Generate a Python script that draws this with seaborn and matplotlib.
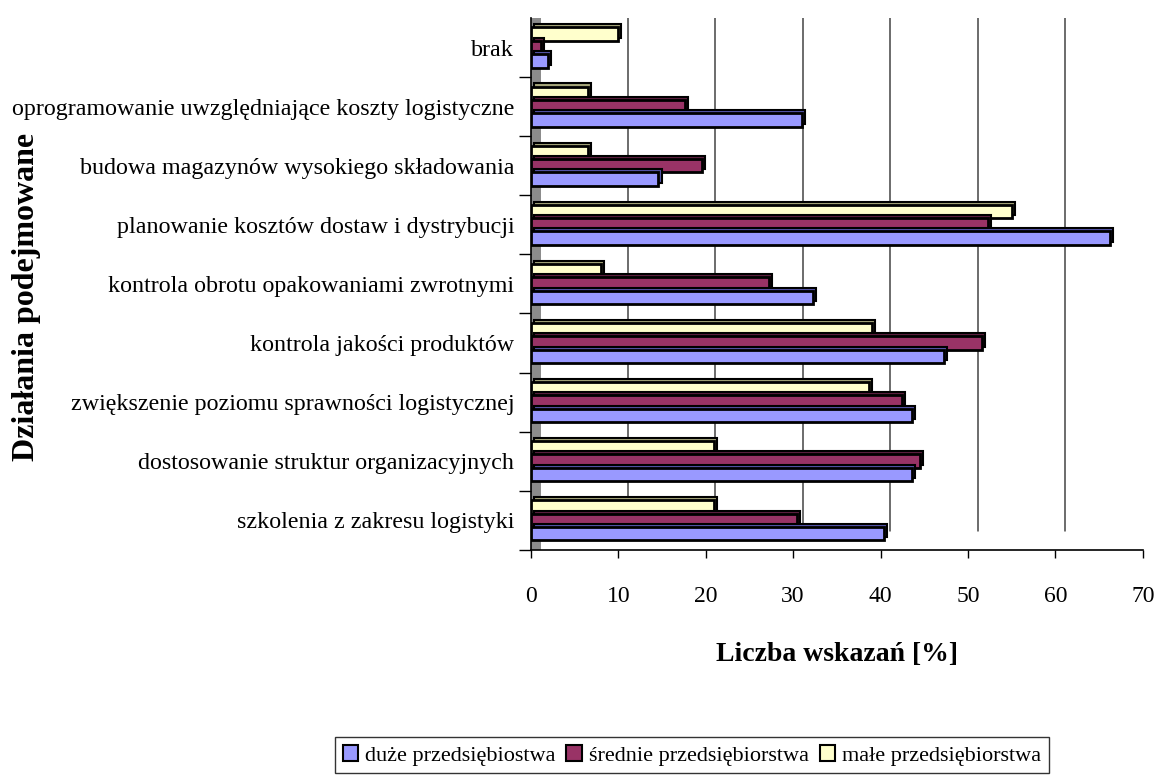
import numpy as np
import pandas as pd
import matplotlib
matplotlib.use("Agg")
import matplotlib.pyplot as plt
import matplotlib.patheffects as pe
from matplotlib.transforms import ScaledTranslation
from matplotlib.patches import Rectangle, Patch
import seaborn as sns

categories = [
    "brak",
    "oprogramowanie uwzględniające koszty logistyczne",
    "budowa magazynów wysokiego składowania",
    "planowanie kosztów dostaw i dystrybucji",
    "kontrola obrotu opakowaniami zwrotnymi",
    "kontrola jakości produktów",
    "zwiększenie poziomu sprawności logistycznej",
    "dostosowanie struktur organizacyjnych",
    "szkolenia z zakresu logistyki",
]
duze = [2.0, 31.0, 14.6, 66.2, 32.3, 47.3, 43.6, 43.6, 40.4]
srednie = [1.2, 17.6, 19.6, 52.3, 27.2, 51.6, 42.5, 44.5, 30.4]
male = [10.0, 6.5, 6.5, 55.0, 8.0, 39.0, 38.7, 20.9, 20.9]
series_names = ["duże przedsiębiostwa", "średnie przedsiębiorstwa", "małe przedsiębiorstwa"]
colors = {"duże przedsiębiostwa": "#9999FF",
          "średnie przedsiębiorstwa": "#993366",
          "małe przedsiębiorstwa": "#FFFFCC"}
dark = {"duże przedsiębiostwa": "#5555AA",
        "średnie przedsiębiorstwa": "#5E1F40",
        "małe przedsiębiorstwa": "#A6A67A"}
xticks = [0, 10, 20, 30, 40, 50, 60, 70]

rows = []
for name, vals in zip(series_names, [duze, srednie, male]):
    for c, v in zip(categories, vals):
        rows.append({"cat": c, "val": v, "series": name})
df = pd.DataFrame(rows)

sns.set_style("white")
plt.rcParams["font.family"] = ["Liberation Serif", "DejaVu Serif"]
plt.rcParams["text.color"] = "black"
plt.rcParams["axes.labelcolor"] = "black"
plt.rcParams["xtick.color"] = "black"
plt.rcParams["ytick.color"] = "black"

fig = plt.figure(figsize=(11.59, 7.81), dpi=100)
ax = fig.add_axes([0.458, 0.296, 0.528, 0.681])

hue_order = ["małe przedsiębiorstwa", "średnie przedsiębiorstwa", "duże przedsiębiostwa"]
sns.barplot(data=df, y="cat", x="val", hue="series", order=categories,
            hue_order=hue_order, palette=colors, orient="h", width=0.68,
            gap=0, edgecolor="black", linewidth=2, ax=ax, legend=False,
            saturation=1, zorder=3)

for cont, name in zip(ax.containers, hue_order):
    for bar in cont:
        bar.set_path_effects([
            pe.PathPatchEffect(offset=(2.2, 2.2), facecolor=dark[name],
                               edgecolor="black", linewidth=1.5),
            pe.Normal(),
        ])

ax.set_xlim(0, 70)
ax.set_xticks(xticks)
ax.set_xticklabels([str(t) for t in xticks], fontsize=17)

# back-wall gridlines (offset for 3D look)
off = ScaledTranslation(7 / 72, 6 / 72, fig.dpi_scale_trans)
for t in xticks[1:]:
    ln = ax.axvline(t, ymin=0.02, ymax=1.0, color="#444444", lw=1.1, zorder=1)
    ln.set_transform(ax.get_xaxis_transform() + off)

# grey side wall
ax.add_patch(Rectangle((0, 0), 0.016, 1.0, transform=ax.transAxes,
                       facecolor="#8c8c8c", edgecolor="none", zorder=0.5))

ax.set_yticks(np.arange(len(categories)) + 0.5, minor=False)
ax.set_yticks(np.arange(len(categories)), minor=True)
ax.set_yticklabels([], minor=False)
ax.set_yticklabels(categories, minor=True, fontsize=17.3)
ax.tick_params(axis="y", which="major", length=9, width=1, color="black", direction="out", left=True)
ax.tick_params(axis="y", which="minor", length=0, pad=12)
ax.tick_params(axis="x", length=6, width=1, color="black", direction="out", bottom=True, pad=20)
ax.set_ylim(len(categories) - 0.5, -0.5)

for s in ["top", "right"]:
    ax.spines[s].set_visible(False)
for s in ["left", "bottom"]:
    ax.spines[s].set_color("black")
    ax.spines[s].set_linewidth(1.2)

ax.set_xlabel("Liczba wskazań [%]", fontsize=20, fontweight="bold", labelpad=25)
ax.set_ylabel("Działania podejmowane", fontsize=23, fontweight="bold")
ax.yaxis.set_label_coords(-0.80, 0.475)

handles = [Patch(facecolor=colors[n], edgecolor="black", linewidth=1.5) for n in series_names]
leg = fig.legend(handles, series_names, loc="center", bbox_to_anchor=(0.597, 0.033),
                 ncol=3, frameon=True, fancybox=False, edgecolor="black",
                 fontsize=16, handlelength=0.7, handleheight=0.7, handletextpad=0.3,
                 columnspacing=0.5, borderpad=0.35)
leg.get_frame().set_linewidth(1.0)

fig.savefig("out.png", dpi=100)
